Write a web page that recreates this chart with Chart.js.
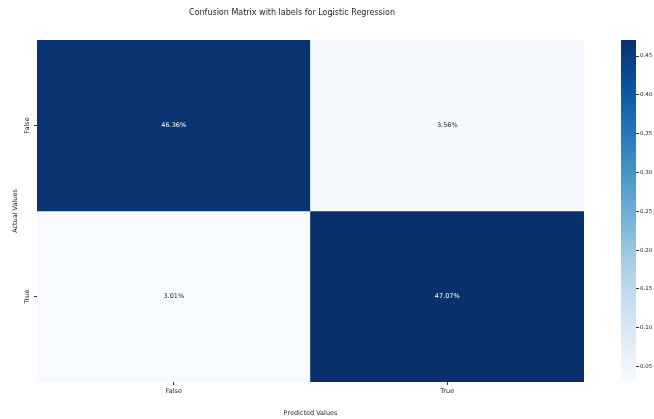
<!DOCTYPE html>
<html>
<head>
<meta charset="utf-8">
<title>Confusion Matrix</title>
<script src="https://cdn.jsdelivr.net/npm/chart.js@4/dist/chart.umd.min.js"></script>
<style>
  html, body { margin: 0; padding: 0; background: #fff; }
  #wrap { position: relative; width: 654px; height: 419px; }
  #matrix { position: absolute; left: 0; top: 0; }
  #colorbar { position: absolute; left: 600px; top: 0; }
</style>
</head>
<body>
<div id="wrap">
  <canvas id="matrix" width="654" height="419"></canvas>
  <canvas id="colorbar" width="54" height="419"></canvas>
</div>
<script>
// confusion matrix shares (rows = actual, columns = predicted)
const predictedLabels = ['False', 'True'];
const actualLabels = ['False', 'True'];
const actualFalseRow = [0.4636, 0.0356];
const actualTrueRow = [0.0301, 0.4707];
const colorbarTicks = [0.05, 0.10, 0.15, 0.20, 0.25, 0.30, 0.35, 0.40, 0.45];

const allValues = actualFalseRow.concat(actualTrueRow);
const vmin = Math.min(...allValues);
const vmax = Math.max(...allValues);

Chart.defaults.font.family = 'DejaVu Sans';
Chart.defaults.color = '#262626';
Chart.defaults.animation = false;

// matplotlib "Blues" colormap
const bluesStops = ['#f7fbff', '#deebf7', '#c6dbef', '#9ecae1', '#6baed6',
  '#4292c6', '#2171b5', '#08519c', '#08306b'];

function hexToRgb(h) {
  return [parseInt(h.slice(1, 3), 16), parseInt(h.slice(3, 5), 16), parseInt(h.slice(5, 7), 16)];
}

function blues(t) {
  t = Math.max(0, Math.min(1, t));
  const pos = t * (bluesStops.length - 1);
  const i = Math.min(Math.floor(pos), bluesStops.length - 2);
  const f = pos - i;
  const a = hexToRgb(bluesStops[i]);
  const b = hexToRgb(bluesStops[i + 1]);
  const c = a.map((v, k) => Math.round(v + (b[k] - v) * f));
  return `rgb(${c[0]},${c[1]},${c[2]})`;
}

function norm(v) {
  return (v - vmin) / (vmax - vmin);
}

function rowDataset(row, values) {
  return {
    label: actualLabels[row],
    data: values.map(() => [row, row + 1]),
    shares: values,
    backgroundColor: values.map(v => blues(norm(v))),
    borderWidth: 0,
    grouped: false,
    barPercentage: 1,
    categoryPercentage: 1
  };
}

// percentage written in the middle of each cell
const cellLabels = {
  id: 'cellLabels',
  afterDatasetsDraw(chart) {
    const ctx = chart.ctx;
    ctx.save();
    ctx.font = '6.5px "DejaVu Sans"';
    ctx.textAlign = 'center';
    ctx.textBaseline = 'middle';
    chart.data.datasets.forEach((ds, di) => {
      chart.getDatasetMeta(di).data.forEach((bar, i) => {
        const v = ds.shares[i];
        ctx.fillStyle = norm(v) > 0.5 ? '#ffffff' : '#262626';
        ctx.fillText((v * 100).toFixed(2) + '%', bar.x, (bar.y + bar.base) / 2);
      });
    });
    ctx.restore();
  }
};

const matrixChart = new Chart(document.getElementById('matrix'), {
  type: 'bar',
  data: {
    labels: predictedLabels,
    datasets: [rowDataset(0, actualFalseRow), rowDataset(1, actualTrueRow)]
  },
  options: {
    responsive: false,
    layout: { padding: { left: 0, right: 70, top: 0, bottom: 0 } },
    plugins: {
      legend: { display: false },
      tooltip: { enabled: false },
      title: {
        display: true,
        text: 'Confusion Matrix with labels for Logistic Regression',
        font: { size: 8, weight: 'normal' },
        color: '#262626',
        padding: { top: 8, bottom: 22.4 }
      }
    },
    scales: {
      x: {
        type: 'category',
        offset: true,
        border: { display: false },
        grid: { offset: false, drawOnChartArea: false, drawTicks: true, tickLength: 3, color: '#333' },
        ticks: { font: { size: 6.5 }, padding: 2, maxRotation: 0 },
        title: {
          display: true,
          text: 'Predicted Values',
          font: { size: 6.5 },
          padding: { top: 0, bottom: 2 }
        },
        afterFit(scale) { scale.height = 37; }
      },
      y: {
        type: 'linear',
        min: 0,
        max: 2,
        reverse: true,
        border: { display: false },
        grid: { drawOnChartArea: false, drawTicks: true, tickLength: 3, color: '#333' },
        afterBuildTicks(scale) {
          scale.ticks = actualLabels.map((_, i) => ({ value: i + 0.5 }));
        },
        ticks: {
          font: { size: 6.5 },
          minRotation: 90,
          maxRotation: 90,
          crossAlign: 'center',
          padding: -1.5,
          callback: (value) => actualLabels[Math.floor(value)]
        },
        title: {
          display: true,
          text: 'Actual Values',
          font: { size: 6.5 },
          padding: { top: 11, bottom: 0 }
        },
        afterFit(scale) { scale.width = 37; }
      }
    }
  },
  plugins: [cellLabels]
});

// colour scale bar on the right
const colorbarChart = new Chart(document.getElementById('colorbar'), {
  type: 'bar',
  data: {
    labels: [''],
    datasets: [{
      data: [[vmin, vmax]],
      borderWidth: 0,
      barPercentage: 1,
      categoryPercentage: 1,
      backgroundColor(context) {
        const area = context.chart.chartArea;
        if (!area) return bluesStops[4];
        const g = context.chart.ctx.createLinearGradient(0, area.bottom, 0, area.top);
        bluesStops.forEach((c, i) => g.addColorStop(i / (bluesStops.length - 1), c));
        return g;
      }
    }]
  },
  options: {
    responsive: false,
    layout: { padding: { left: 21, right: 0, top: 40, bottom: 37 } },
    plugins: { legend: { display: false }, tooltip: { enabled: false } },
    scales: {
      x: { display: false },
      y: {
        type: 'linear',
        position: 'right',
        min: vmin,
        max: vmax,
        border: { display: false },
        grid: { drawOnChartArea: false, drawTicks: true, tickLength: 3, color: '#333' },
        afterBuildTicks(scale) {
          scale.ticks = colorbarTicks.map(v => ({ value: v }));
        },
        ticks: {
          font: { size: 5.5 },
          padding: 1,
          callback: (value) => value.toFixed(2)
        },
        afterFit(scale) { scale.width = 18; }
      }
    }
  }
});
</script>
</body>
</html>
